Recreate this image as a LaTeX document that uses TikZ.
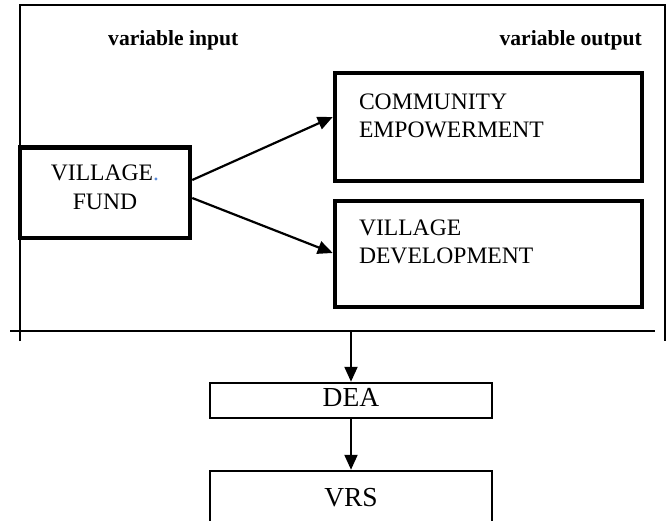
\documentclass[tikz,border=0pt]{standalone}
\usepackage{fontspec}
\setmainfont{Liberation Serif}
\usetikzlibrary{arrows.meta}
\definecolor{MarkBlue}{HTML}{5B8BD9}

\begin{document}
\begin{tikzpicture}[
  x=1pt, y=-1pt,
  frame/.style={line width=2pt, draw=black},
  thickbox/.style={rectangle, draw=black, line width=4.5pt, inner sep=0pt, font=\fontsize{23.6}{27.5}\selectfont},
  thinbox/.style={rectangle, draw=black, line width=2.5pt, inner sep=0pt, text width=282pt, align=center, font=\fontsize{27.5}{31}\selectfont},
  heading/.style={font=\bfseries\fontsize{21.6}{25}\selectfont, inner sep=0pt},
  flow/.style={-{Triangle[length=15pt,width=13pt]}, line width=2.2pt}
]
\useasboundingbox (0,0) rectangle (669,521);
\clip (0,0) rectangle (669,521);

% outer frame and split line
\draw[frame] (20,341) -- (20,5) -- (665,5) -- (665,341);
\draw[frame] (10,331) -- (655,331);
\coordinate (split) at (351,331);

\node[heading, anchor=base west] (varin) at (108,46) {variable input};
\node[heading, anchor=base east] (varout) at (642,46) {variable output};

\node[thickbox, text width=170pt, align=center, text height=33.2pt, text depth=57.3pt,
  font=\fontsize{23.6}{29}\selectfont] (fund) at (105,192.75) {VILLAGE\textcolor{MarkBlue}{.}\\FUND};
\node[thickbox, inner xsep=24pt, text width=259pt, align=left, text height=36.7pt, text depth=71.3pt]
  (empower) at (488.5,127) {COMMUNITY\\EMPOWERMENT};
\node[thickbox, inner xsep=24pt, text width=259pt, align=left, text height=34.6pt, text depth=71.4pt]
  (develop) at (488.5,254) {VILLAGE\\DEVELOPMENT};

\node[thinbox, text height=23pt, text depth=12pt] (dea) at (351,400.5) {DEA};
\node[thinbox, text height=35.7pt, text depth=30pt] (vrs) at (351,503.85) {VRS};

\draw[flow] ([yshift=12.75pt]fund.east) -- ([yshift=10pt]empower.west);
\draw[flow] ([yshift=-5.25pt]fund.east) -- ([yshift=1pt]develop.west);
\draw[flow] (split) -- (dea.north);
\draw[flow] (dea.south) -- (vrs.north);
\end{tikzpicture}
\end{document}
